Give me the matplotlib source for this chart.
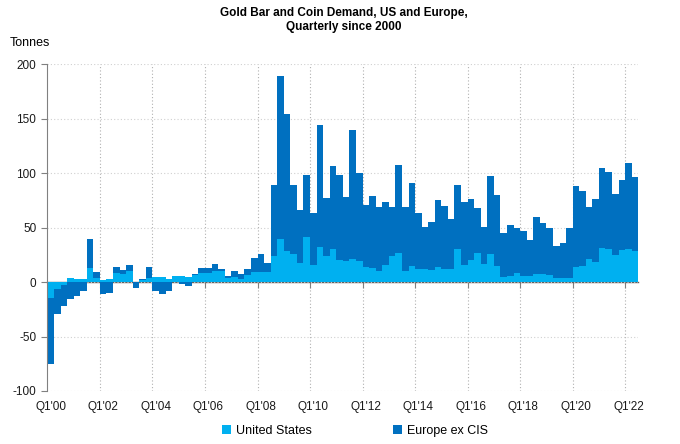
import matplotlib
matplotlib.use("Agg")
import matplotlib.pyplot as plt
import numpy as np
from matplotlib.patches import Patch

plt.rcParams['font.family'] = ['Liberation Sans', 'DejaVu Sans']
plt.rcParams['axes.unicode_minus'] = False

# Quarterly categories Q1'00 .. Q2'22
quarters = [f"Q{q}'{y:02d}" for y in range(0, 23) for q in range(1, 5)][:90]

# Tonnes
us = [-14.7, -6.4, -3.0, 3.8, 3.2, 2.5, 12.9, 3.6, 2.3, 2.8,
      8.0, 7.0, 10.4, 0.5, 2.1, 4.2, 4.6, 4.6, 2.9, 5.7,
      5.7, 4.9, 6.5, 8.5, 8.0, 9.8, 9.8, 3.9, 4.3, 3.1,
      6.7, 9.5, 9.2, 9.3, 24.3, 39.9, 28.8, 25.6, 17.2, 41.4,
      16.0, 32.5, 24.2, 30.7, 20.6, 19.8, 21.5, 19.6, 13.8, 12.6,
      9.8, 16.0, 23.6, 26.4, 9.8, 15.0, 12.0, 11.6, 10.7, 14.0,
      11.8, 12.4, 30.5, 16.1, 20.6, 27.0, 17.0, 25.9, 14.8, 5.0,
      5.8, 8.4, 5.2, 5.2, 7.7, 7.4, 6.7, 3.5, 4.1, 4.2,
      14.3, 14.4, 21.5, 18.3, 31.6, 30.0, 24.5, 29.9, 30.7, 28.2]

europe = [-60.8, -23.0, -18.5, -15.2, -12.4, -7.8, 27.1, 5.3, -10.7, -10.0,
          5.8, 3.7, 4.9, -5.6, 0.3, 10.0, -8.3, -10.7, -8.6, 0.3,
          -1.5, -3.6, 0.5, 4.5, 5.2, 6.5, 2.2, 1.3, 6.1, 4.6,
          5.3, 12.5, 16.6, 8.2, 64.4, 149.1, 125.2, 63.4, 49.1, 56.5,
          47.8, 112.1, 53.3, 75.7, 77.7, 58.2, 118.4, 80.6, 57.4, 66.2,
          59.5, 57.3, 45.4, 81.0, 58.9, 76.4, 51.3, 38.8, 44.3, 61.2,
          58.0, 45.3, 58.3, 57.9, 55.9, 41.0, 33.4, 71.3, 65.0, 39.7,
          46.7, 41.6, 41.3, 33.6, 51.8, 46.8, 42.8, 29.8, 31.8, 45.4,
          73.9, 69.6, 47.4, 57.7, 73.6, 71.0, 56.0, 63.7, 78.9, 68.0]

series_names = ["United States", "Europe ex CIS"]
colors = ["#00B0F0", "#0070C0"]

us_a = np.array(us)
eu_a = np.array(europe)
x = np.arange(len(quarters))

# Excel-style stacking: positives stack up, negatives stack down
eu_bottom = np.where(eu_a >= 0, np.maximum(us_a, 0), np.minimum(us_a, 0))

fig = plt.figure(figsize=(6.8, 4.44), dpi=100)
ax = fig.add_axes([0.0697, 0.1194, 0.9387 - 0.0697, 0.8552 - 0.1194])

ax.bar(x, us_a, width=1.0, color=colors[0], linewidth=0, zorder=2)
ax.bar(x, eu_a, bottom=eu_bottom, width=1.0, color=colors[1], linewidth=0, zorder=2)

ax.set_xlim(-0.5, len(quarters) - 0.5)
ax.set_ylim(-100, 200)

# y axis
ax.set_yticks(np.arange(-100, 201, 50))
ax.yaxis.grid(True, linestyle=(0, (1, 2)), color="#d0d0d0", linewidth=0.8, zorder=0)
ax.tick_params(axis='y', length=4, width=0.8, color="#808080", labelsize=8.5,
               labelcolor="#1a1a1a", pad=4)

# x labels every 8 quarters at Q1 bar centres
label_idx = list(range(0, len(quarters), 8))
ax.set_xticks(label_idx)
ax.set_xticklabels([quarters[i] for i in label_idx])
ax.tick_params(axis='x', length=0, labelsize=8.5, labelcolor="#1a1a1a", pad=7)

# vertical dotted gridlines at boundaries of every 8th quarter
boundaries = [i - 0.5 for i in label_idx[1:]]
for b in boundaries:
    ax.axvline(b, linestyle=(0, (1, 2)), color="#b0b0b0", linewidth=0.8, zorder=0)

for s in ['top', 'right', 'bottom']:
    ax.spines[s].set_visible(False)
ax.spines['left'].set_color("#808080")
ax.spines['left'].set_linewidth(0.8)

# category axis line at zero with small tick marks
sec = ax.secondary_xaxis((0 - (-100)) / 300.0)
sec.set_xticks(boundaries)
sec.tick_params(axis='x', length=4, width=0.8, color="#808080", labelbottom=False)
sec.spines['bottom'].set_color("#606060")
sec.spines['bottom'].set_linewidth(1.0)

fig.text(0.505, 0.985, "Gold Bar and Coin Demand, US and Europe,\nQuarterly since 2000",
         ha='center', va='top', fontsize=8.5, fontweight='bold', linespacing=1.25)
fig.text(10 / 680, 1 - 43 / 444, "Tonnes", ha='left', va='center', fontsize=9)

handles = [Patch(facecolor=c, edgecolor='none') for c in colors]
fig.legend(handles, series_names, loc='center', bbox_to_anchor=(0.522, 1 - 431 / 444),
           ncol=2, frameon=False, fontsize=9, handlelength=0.7, handleheight=0.7,
           handletextpad=0.4, columnspacing=6.5)

fig.savefig("out.png", dpi=100)
